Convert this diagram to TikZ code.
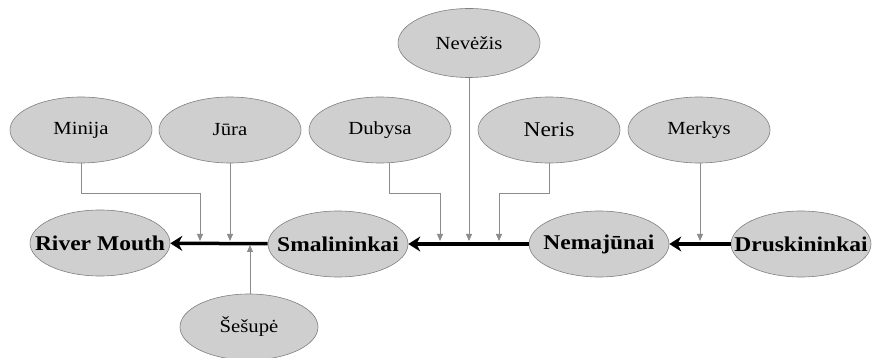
\documentclass[tikz,border=0pt]{standalone}
\usepackage{fontspec}
\setmainfont[FakeStretch=1.12]{Liberation Serif}
\usetikzlibrary{shapes.geometric, arrows.meta}

\tikzset{
  river/.style={ellipse, draw=black!50, line width=0.6pt, fill=black!19, inner sep=0pt,
    minimum width=142pt, minimum height=66pt, font=\fontsize{18.5}{21}\selectfont,
    execute at begin node={\hbox to 0pt\bgroup\hss}, execute at end node={\hss\egroup}},
  town/.style={river, minimum width=140pt, minimum height=66pt, font=\fontsize{21}{24}\selectfont\bfseries},
  feed/.style={draw=black!45, line width=0.8pt, -{Triangle[length=7pt,width=6pt]}},
  flow/.style={draw=black, line width=3.5pt, -{Stealth[length=12pt,width=15pt]}}
}

\begin{document}
\begin{tikzpicture}[x=1pt,y=-1pt]
\useasboundingbox (0,0) rectangle (873,358);
% main stream
\node[town] (mouth) at (100,243) {River Mouth};
\node[town] (smal) at (338,244) {Smalininkai};
\node[town] (nema) at (599,244) {Nemajūnai};
\node[town] (drus) at (801,244) {Druskininkai};
% tributaries
\node[river] (minija) at (81,130) {Minija};
\node[river] (jura) at (230,130) {Jūra};
\node[river] (dubysa) at (380,130) {Dubysa};
\node[river, font=\fontsize{21}{24}\selectfont] (neris) at (549,130) {Neris};
\node[river] (merkys) at (699,130) {Merkys};
\node[river, minimum height=69pt] (nevezis) at (469,43) {Nevėžis};
\node[river, minimum width=138pt] (sesupe) at (249,327) {Šešupė};
% inflow points
\coordinate (inMinija) at (200,241);
\coordinate (inJura) at (230,241);
\coordinate (inSesupe) at (250,245);
\coordinate (inDubysa) at (440,241);
\coordinate (inNevezis) at (469,241);
\coordinate (inNeris) at (499,241);
\coordinate (inMerkys) at (700,241);

\draw[flow] (smal) -- (mouth);
\draw[flow] (nema) -- (smal);
\draw[flow] (drus) -- (nema);

\draw[feed] (minija.south) -- ++(0,30) -| (inMinija);
\draw[feed] (jura) -- (inJura);
\draw[feed] (sesupe.north -| inSesupe) -- (inSesupe);
\draw[feed] (dubysa.south -| 389,0) -- (389,193) -| (inDubysa);
\draw[feed] (nevezis) -- (inNevezis);
\draw[feed] (neris.south) -- ++(0,30) -| (inNeris);
\draw[feed] (merkys.south -| inMerkys) -- (inMerkys);
\end{tikzpicture}
\end{document}
